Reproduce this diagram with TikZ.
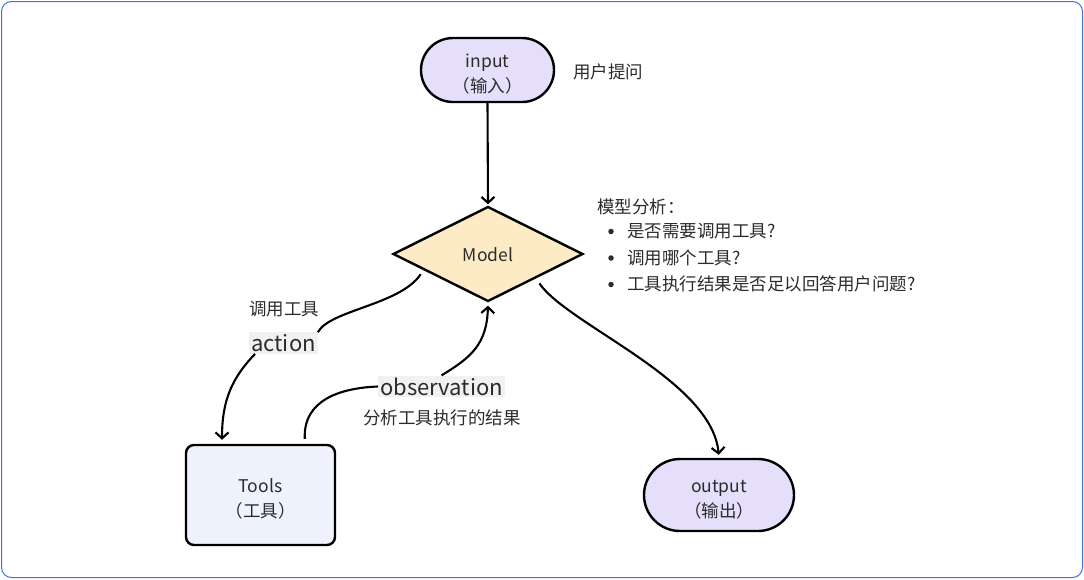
\documentclass[tikz,border=0pt]{standalone}
\usepackage{fontspec}
\setmainfont{Noto Sans CJK SC}
\usetikzlibrary{arrows.meta,shapes.geometric}

\definecolor{ink}{HTML}{2B2B2B}
\definecolor{lilac}{HTML}{E5DFFB}
\definecolor{sand}{HTML}{FCEBC5}
\definecolor{mist}{HTML}{EEF2FC}
\definecolor{tagbg}{HTML}{F0F1F3}
\definecolor{edgeblue}{HTML}{3D6FE6}

\begin{document}
\begin{tikzpicture}[x=1pt,y=-1pt,>={Straight Barb[length=6pt,width=13pt]},
  every node/.style={text=ink,font=\fontsize{17.5}{25}\selectfont},
  twoline/.style={align=center,text height=50pt,text depth=6pt},
  term/.style={draw,line width=2.4pt,fill=lilac,twoline,inner sep=0pt},
  flow/.style={->,line width=2.1pt},
  tag/.style={fill=tagbg,inner sep=2pt,font=\fontsize{22}{22}\selectfont},
  note/.style={font=\fontsize{17.5}{17.5}\selectfont,inner sep=0pt}]
\useasboundingbox (0,0) rectangle (1084,579);
\draw[edgeblue,line width=1pt,rounded corners=10pt] (1.5,1.5) rectangle (1082.5,577.5);

% the loop: input -> model -> tools -> model -> output
\node[term,minimum width=133pt,minimum height=64pt,rounded corners=32pt] (input) at (487.5,70) {input\\（输入）};
\node[note,anchor=west] (ask) at (573,72) {用户提问};
\node[diamond,draw,line width=2.4pt,fill=sand,minimum width=190pt,minimum height=95pt,inner sep=0pt,text height=17pt,text depth=3pt] (model) at (488,254) {Model};
\node[draw,line width=2.4pt,fill=mist,rounded corners=8pt,minimum width=149pt,minimum height=100pt,twoline] (tools) at (260.5,495) {Tools\\（工具）};
\node[term,minimum width=150pt,minimum height=72pt,rounded corners=36pt] (output) at (719,495) {output\\（输出）};

\node[tag] (act) at (283.5,343) {action};
\node[note] (actcn) at (284,309) {调用工具};
\node[tag] (obs) at (441.5,386.5) {observation};
\node[note] (obscn) at (442,418) {分析工具执行的结果};

% what the model checks
\node[note,anchor=west] (why) at (597,207) {模型分析：};
\foreach \q [count=\i] in {是否需要调用工具?,调用哪个工具?,工具执行结果是否足以回答用户问题?} {
  \node[circle,fill=ink,inner sep=0pt,minimum size=5.5pt] (dot\i) at (611,205+26.5*\i) {};
  \node[note,anchor=west] (q\i) at (627,204.5+26.5*\i) {\q};
}

\draw[flow,shorten >=1pt] (input.south) -- (model.north);
\draw[line width=2.1pt,shorten <=5pt] (model.194) .. controls (400,305) and (330,310) .. (act.north east);
\draw[flow,shorten >=4pt] ([xshift=6pt]act.south west) .. controls (232,378) and (222,400) .. ([xshift=-38.5pt]tools.north);
\draw[line width=2.1pt,shorten <=5pt] ([xshift=44.5pt]tools.north) .. controls (303,400) and (340,388) .. (obs.west);
\draw[flow,shorten >=3pt] (obs.north) .. controls (470,358) and (487,345) .. (model.south);
\draw[flow,shorten <=6pt,shorten >=3pt] (model.333) .. controls (568,325) and (712,380) .. (output.north);
\end{tikzpicture}
\end{document}
